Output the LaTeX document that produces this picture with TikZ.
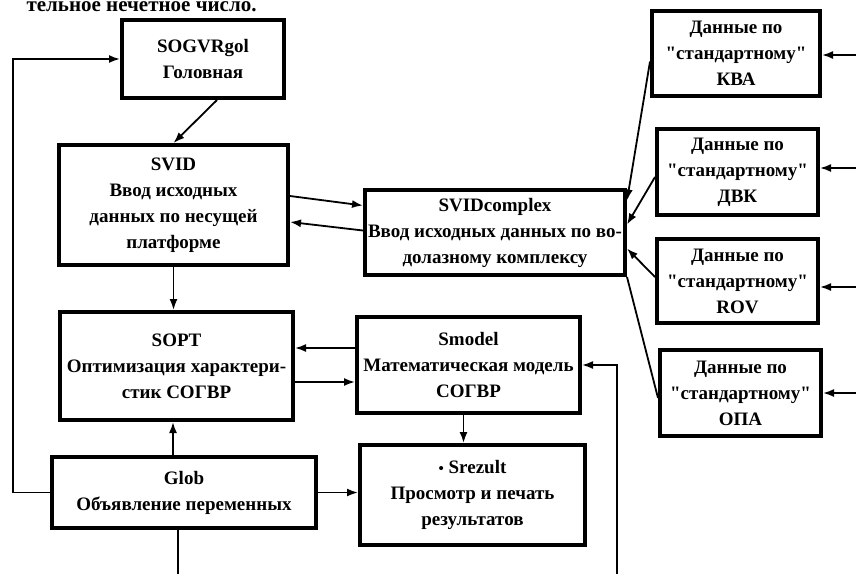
\documentclass[tikz,border=0pt]{standalone}
\usepackage{fontspec}
\setmainfont{Liberation Serif}[Ligatures=TeXOff]
\usetikzlibrary{arrows.meta,calc}
\newcommand{\qq}{\char34\relax}
\begin{document}
\begin{tikzpicture}[x=1pt,y=-1pt,
  box/.style={draw,line width=4pt,inner sep=0pt,align=center,
    font=\bfseries\fontsize{19}{26}\selectfont},
  arr/.style={line width=1.8pt,-{Latex[length=11pt,width=8pt]}},
  ln/.style={line width=1.8pt}]
\useasboundingbox (0,0) rectangle (856,573);
\node[anchor=base west,font=\bfseries\fontsize{21}{24}\selectfont] (top) at (23,11) {тельное нечетное число.};
\node[box,minimum width=162pt,minimum height=78pt] (gol) at (203,59) {SOGVRgol\\Головная};
\node[box,minimum width=229pt,minimum height=120pt] (svid) at (173.5,205) {SVID\\Ввод исходных\\данных по несущей\\платформе};
\node[box,minimum width=233pt,minimum height=108pt] (sopt) at (176.5,366) {SOPT\\Оптимизация характери-\\стик СОГВР};
\node[box,minimum width=264pt,minimum height=71pt] (glob) at (184,492.5) {Glob\\Объявление переменных};
\node[box,minimum width=260pt,minimum height=85pt] (cpx) at (495,232.5) {SVIDcomplex\\Ввод исходных данных по во-\\долазному комплексу};
\node[box,minimum width=168pt,minimum height=85pt] (kva) at (736,53.5) {Данные по\\\qq стандартному\qq\\КВА};
\node[box,minimum width=161pt,minimum height=86pt] (dvk) at (737.5,172) {Данные по\\\qq стандартному\qq\\ДВК};
\node[box,minimum width=161pt,minimum height=84pt] (rov) at (737.5,281) {Данные по\\\qq стандартному\qq\\ROV};
\node[box,minimum width=161pt,minimum height=86pt] (opa) at (740.5,393) {Данные по\\\qq стандартному\qq\\ОПА};
\node[box,minimum width=223pt,minimum height=96pt] (smod) at (468.5,365) {Smodel\\Математическая модель\\СОГВР};
\node[box,minimum width=225pt,minimum height=100pt] (srez) at (472.5,495) {{\fontsize{15}{15}\selectfont •} Srezult\\Просмотр и печать\\результатов};
% connectors
\draw[arr] ($(gol.south)+(14,0)$) -- (svid.north);
\draw[arr] (glob.west) -- ++(-37,0) |- (gol.west);
\draw[arr] ($(svid.east)+(0,-9)$) -- ($(cpx.west)+(0,-27)$);
\draw[arr] ($(cpx.west)+(0,-2)$) -- ($(svid.east)+(0,17)$);
\draw[arr] (svid.south) -- (svid.south |- sopt.north);
\coordinate (gt) at ($(glob.north)+(-11,0)$);
\draw[arr] (gt) -- (gt |- sopt.south);
\coordinate (ms) at ($(smod.west)+(0,-17)$);
\draw[arr] (ms) -- (ms -| sopt.east);
\coordinate (so) at ($(sopt.east)+(0,16)$);
\draw[arr] (so) -- (so -| smod.west);
\coordinate (md) at ($(smod.south)+(-5,0)$);
\draw[arr] (md) -- (md |- srez.north);
\draw[arr] (glob.east) -- (glob.east -| srez.west);
\coordinate (gb) at ($(glob.south)+(-6,0)$);
\coordinate (gbe) at ($(gb)+(0,60)$);
\draw[ln] (gb) -- (gbe);
\coordinate (rb) at (617,590);
\draw[arr] (rb) |- (smod.east);
\draw[arr] ($(kva.west)+(0,8)$) -- ($(cpx.east)+(0,-32)$);
\draw[arr] ($(dvk.west)+(0,5)$) -- ($(cpx.east)+(0,-8)$);
\draw[arr] ($(rov.west)+(0,-4)$) -- ($(cpx.east)+(0,16)$);
\draw[ln] ($(opa.west)+(0,5)$) -- (cpx.south east);
\coordinate (e1) at (860,55);
\coordinate (e2) at (860,168);
\coordinate (e3) at (860,287);
\coordinate (e4) at (860,393);
\draw[arr] (e1) -- (e1 -| kva.east);
\draw[arr] (e2) -- (e2 -| dvk.east);
\draw[arr] (e3) -- (e3 -| rov.east);
\draw[arr] (e4) -- (e4 -| opa.east);
\end{tikzpicture}
\end{document}
